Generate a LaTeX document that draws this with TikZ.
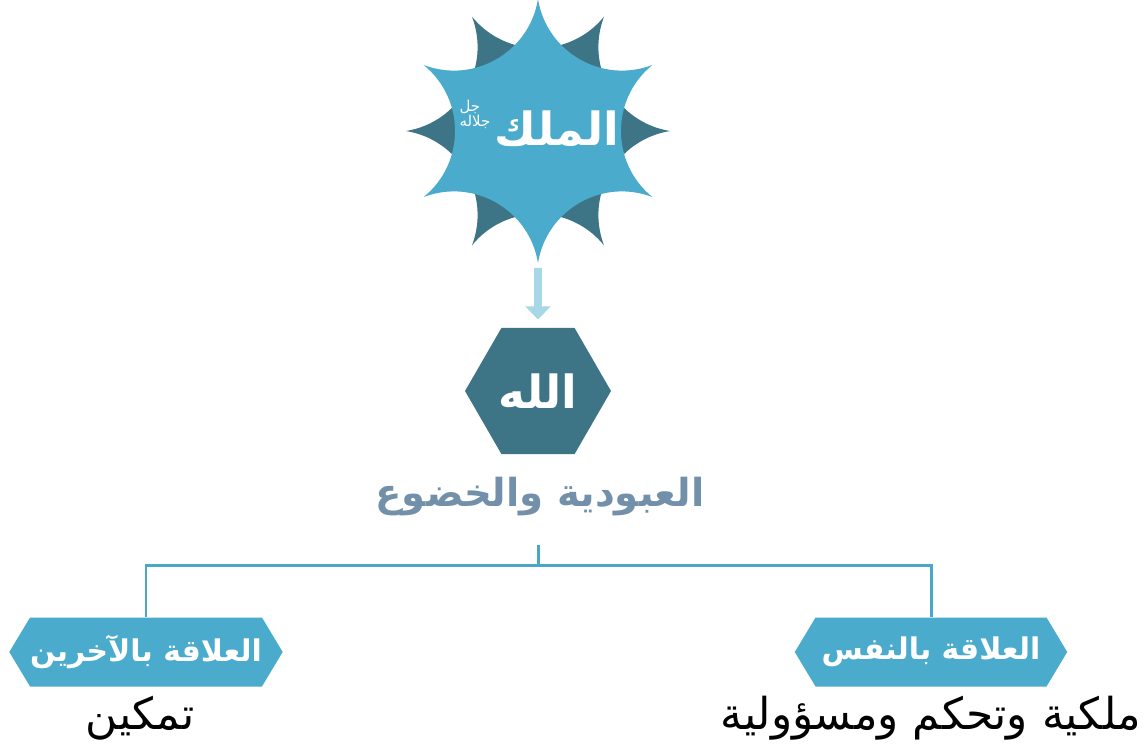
\documentclass[tikz,border=0pt]{standalone}
\usepackage{fontspec}
\usepackage{xcolor}
\newfontfamily\arabicfont[Script=Arabic]{DejaVu Sans}
\TeXXeTstate=1
\usetikzlibrary{arrows.meta,shapes.geometric,shapes.symbols}
\definecolor{skyblue}{HTML}{4AABCD}
\definecolor{deepteal}{HTML}{3D7587}
\definecolor{paleblue}{HTML}{A8D7E8}
\definecolor{slate}{HTML}{7290A9}
\definecolor{linkblue}{HTML}{4BA7C6}
\newcommand{\rtl}[1]{\beginR #1\endR}

\begin{document}
\begin{tikzpicture}[
    x=0.02cm,y=-0.02cm,
    every node/.style={inner sep=0pt,font=\arabicfont},
    title/.style={font=\arabicfont\bfseries\fontsize{26pt}{29pt}\selectfont,text=white},
    hexa/.style={regular polygon,regular polygon sides=6,minimum size=2.92cm,fill=deepteal},
    banner/.style={signal,signal to=west and east,signal pointer angle=118,
                   fill=skyblue,minimum width=5.45cm,minimum height=1.38cm,text=white,
                   font=\arabicfont\bfseries\fontsize{17pt}{19pt}\selectfont},
    note/.style={font=\arabicfont\fontsize{25pt}{28pt}\selectfont},
    tree/.style={draw=linkblue,line width=1.7pt},
    down/.style={draw=paleblue,line width=4.4pt,-{Triangle[width=14pt,length=7.5pt]},
                 shorten <=3.4pt,shorten >=4.5pt},
  ]
  \useasboundingbox (0,0) rectangle (1146,748);

  \begin{scope}[shift={(538,131)}]
    \fill[deepteal] (0:132) \foreach \a in {0,60,...,300}{
      .. controls (\a+6.25:79.2) and (\a+53.75:79.2) .. (\a+60:132)} -- cycle;
    \fill[skyblue] (30:132) \foreach \a in {30,90,...,330}{
      .. controls (\a+6.25:79.2) and (\a+53.75:79.2) .. (\a+60:132)} -- cycle;
  \end{scope}
  \node[title] (king) at (557,129) {\rtl{الملك}};
  \node[font=\arabicfont\fontsize{8.5pt}{8.5pt}\selectfont,text=white,align=left] (glory) at (475,114)
    {\rtl{جل}\\\rtl{جلاله}};
  \coordinate (kingtip) at (538,262);

  \node[hexa,title] (allah) at (538,391) {\rtl{الله}};
  \draw[down] (kingtip) -- (allah);

  \node[font=\arabicfont\bfseries\fontsize{22pt}{25pt}\selectfont,text=slate] (worship) at (540,497)
    {\rtl{العبودية والخضوع}};
  \coordinate (fork) at (538,545);

  \node[banner] (others) at (146,652) {\rtl{العلاقة بالآخرين}};
  \node[banner] (self) at (931,652) {\rtl{العلاقة بالنفس}};
  \draw[tree] (fork) -- ++(0,20) coordinate (split);
  \draw[tree] (others.north) |- (split) -| (self.north);

  \node[note] (empower) at (140,718) {\rtl{تمكين}};
  \node[note] (ownership) at (931,718) {\rtl{ملكية وتحكم ومسؤولية}};
\end{tikzpicture}
\end{document}
